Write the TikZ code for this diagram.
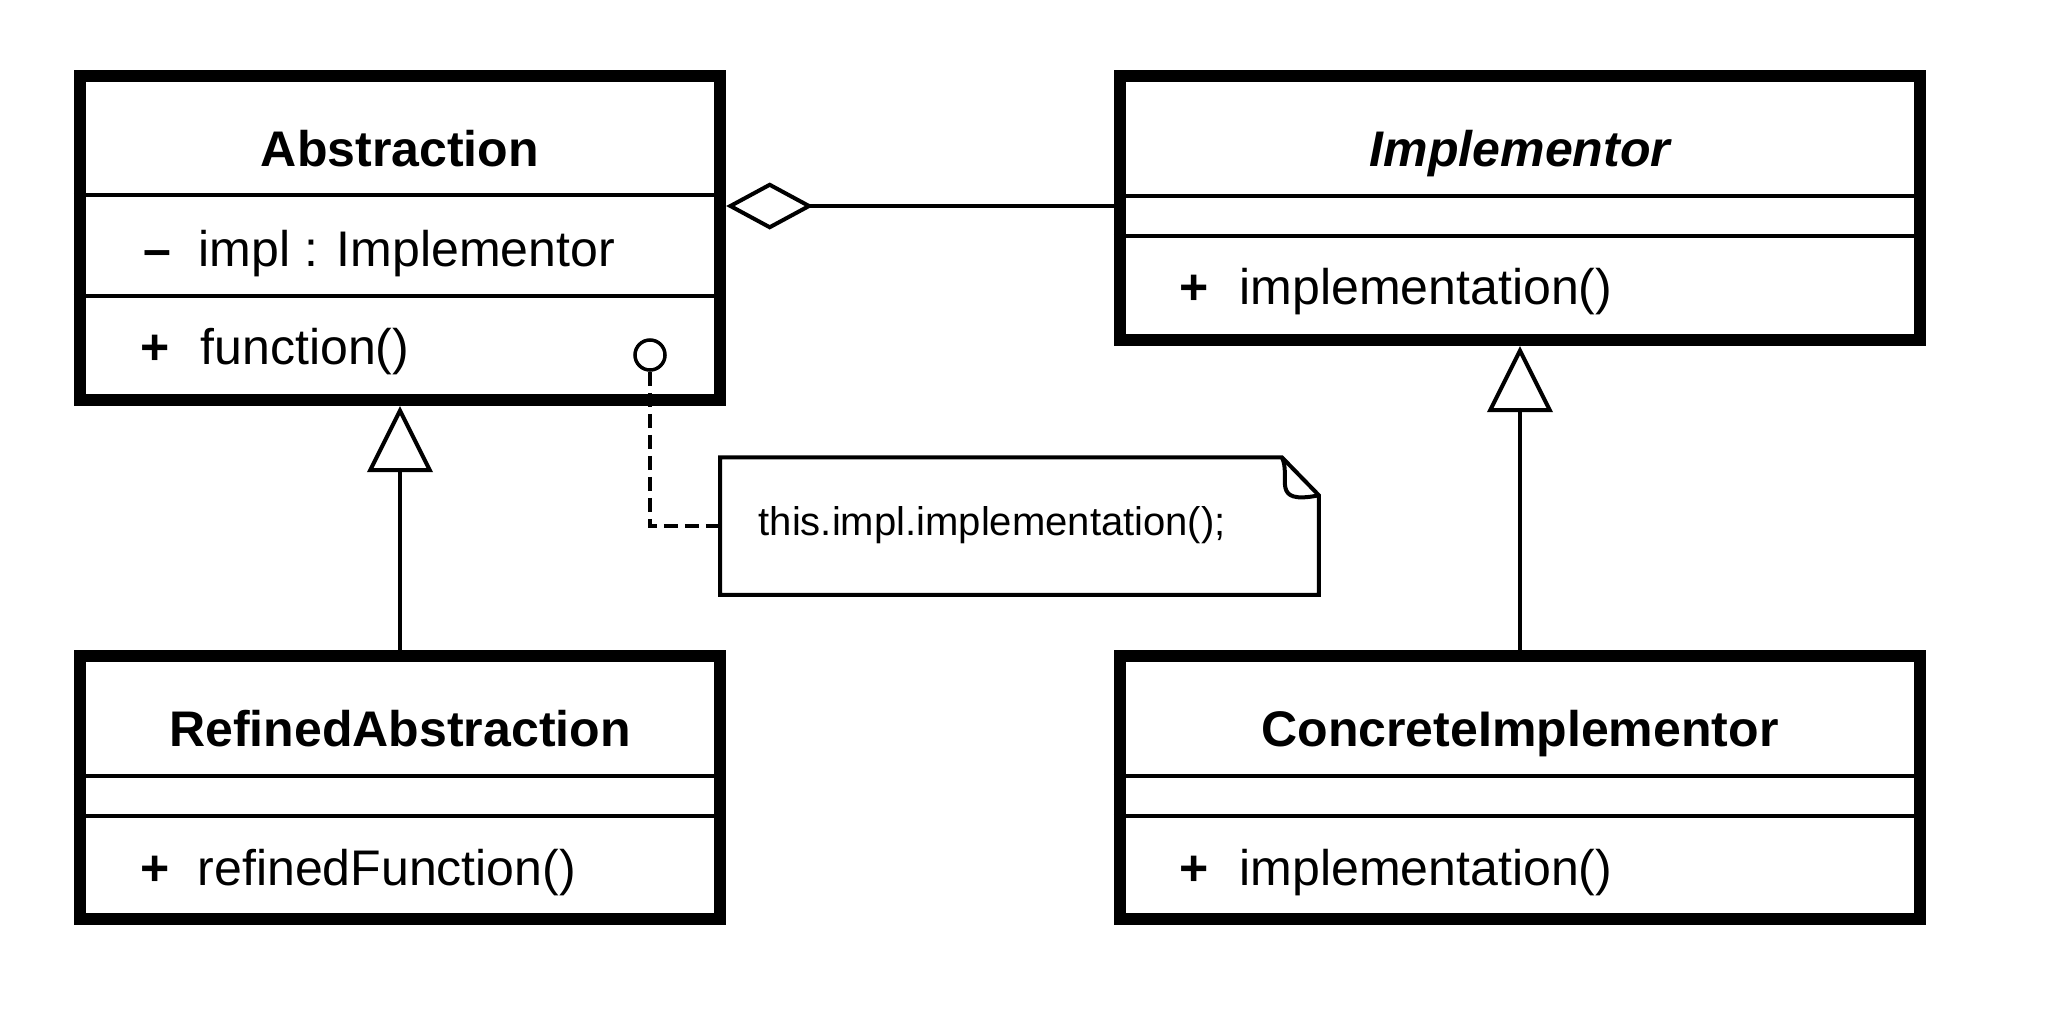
\documentclass[tikz,border=0pt]{standalone}
\usepackage{fontspec}
\setmainfont{Liberation Sans}[Ligatures=NoCommon]
\usetikzlibrary{arrows.meta}
\begin{document}
\begin{tikzpicture}[x=0.01cm,y=-0.01cm,
  classbox/.style={draw, line width=0.12cm, rectangle, inner sep=0, fill=white},
  sepline/.style={line width=0.04cm},
  thinline/.style={line width=0.04cm},
  ctitle/.style={anchor=base, inner sep=0, font=\fontsize{14.23pt}{17pt}\selectfont\bfseries},
  member/.style={anchor=base west, inner sep=0, font=\fontsize{14.23pt}{17pt}\selectfont},
  vis/.style={anchor=base west, inner sep=0, font=\fontsize{14.23pt}{17pt}\selectfont\bfseries},
  gen/.style={thinline, -{Triangle[open, length=0.66cm, width=0.65cm]}},
  aggr/.style={thinline, {Diamond[open, length=0.87cm, width=0.47cm]}-},
  notetext/.style={anchor=base west, inner sep=0, font=\fontsize{11.38pt}{14pt}\selectfont},
  dep/.style={thinline, dash pattern=on 0.14cm off 0.07cm},
]
\fill[white] (0,0) rectangle (2054,1014);
\useasboundingbox (0,0) rectangle (2054,1014);

% class boxes
\node[classbox, minimum width=6.4cm, minimum height=3.24cm] (abs) at (400,238) {};
\node[classbox, minimum width=8cm, minimum height=2.64cm] (impl) at (1520,208) {};
\node[classbox, minimum width=6.4cm, minimum height=2.63cm] (ref) at (400,787.5) {};
\node[classbox, minimum width=8cm, minimum height=2.63cm] (conc) at (1520,787.5) {};

% separators
\draw[sepline] (abs.west |- 0,195.3) -- (abs.east |- 0,195.3);
\draw[sepline] (abs.west |- 0,296) -- (abs.east |- 0,296);
\draw[sepline] (impl.west |- 0,195.5) -- (impl.east |- 0,195.5);
\draw[sepline] (impl.west |- 0,236) -- (impl.east |- 0,236);
\draw[sepline] (ref.west |- 0,776) -- (ref.east |- 0,776);
\draw[sepline] (ref.west |- 0,816) -- (ref.east |- 0,816);
\draw[sepline] (conc.west |- 0,776) -- (conc.east |- 0,776);
\draw[sepline] (conc.west |- 0,816) -- (conc.east |- 0,816);

% texts
\node[ctitle] (absT) at (400,166) {Abstraction};
\node[vis] (absV1) at (143,266) {–};
\node[member] (absA1) at (198,266) {impl : Implementor};
\node[vis] (absV2) at (140,364) {+};
\node[member] (absM1) at (200,364) {function()};

\node[ctitle, font=\fontsize{14.23pt}{17pt}\selectfont\bfseries\itshape] (implT) at (1520,166) {Implementor};
\node[vis] (implV) at (1179,304) {+};
\node[member] (implM) at (1239,304) {implementation()};

\node[ctitle] (refT) at (400,746) {RefinedAbstraction};
\node[vis] (refV) at (140,885) {+};
\node[member] (refM) at (197,885) {refinedFunction()};

\node[ctitle] (concT) at (1520,746) {ConcreteImplementor};
\node[vis] (concV) at (1179,885) {+};
\node[member] (concM) at (1239,885) {implementation()};

% note
\node[minimum width=5.97cm, minimum height=1.36cm, inner sep=0] (note) at (1019.5,526) {};
\draw[thinline, line join=miter, fill=white] (note.north west) -- ([xshift=-0.37cm]note.north east)
  -- ([yshift=-0.38cm]note.north east) -- (note.south east) -- (note.south west) -- cycle;
\draw[thinline] ([xshift=-0.37cm]note.north east) .. controls +(0.1cm,-0.2cm) and +(-0.5cm,-0.1cm) .. ([yshift=-0.38cm]note.north east);
\node[notetext] (noteT) at (758,535) {this.impl.implementation();};

% dependency from method to note
\node[circle, draw, fill=white, line width=0.035cm, minimum size=0.3cm, inner sep=0] (dot) at (650,355) {};
\draw[dep] (dot.south) |- (note.west);

% aggregation
\coordinate (aggy) at (0,206);
\draw[aggr] (abs.east |- aggy) -- (impl.west |- aggy);

% generalizations
\draw[gen] (ref.north) -- (abs.south);
\draw[gen] (conc.north) -- (impl.south);
\end{tikzpicture}
\end{document}
